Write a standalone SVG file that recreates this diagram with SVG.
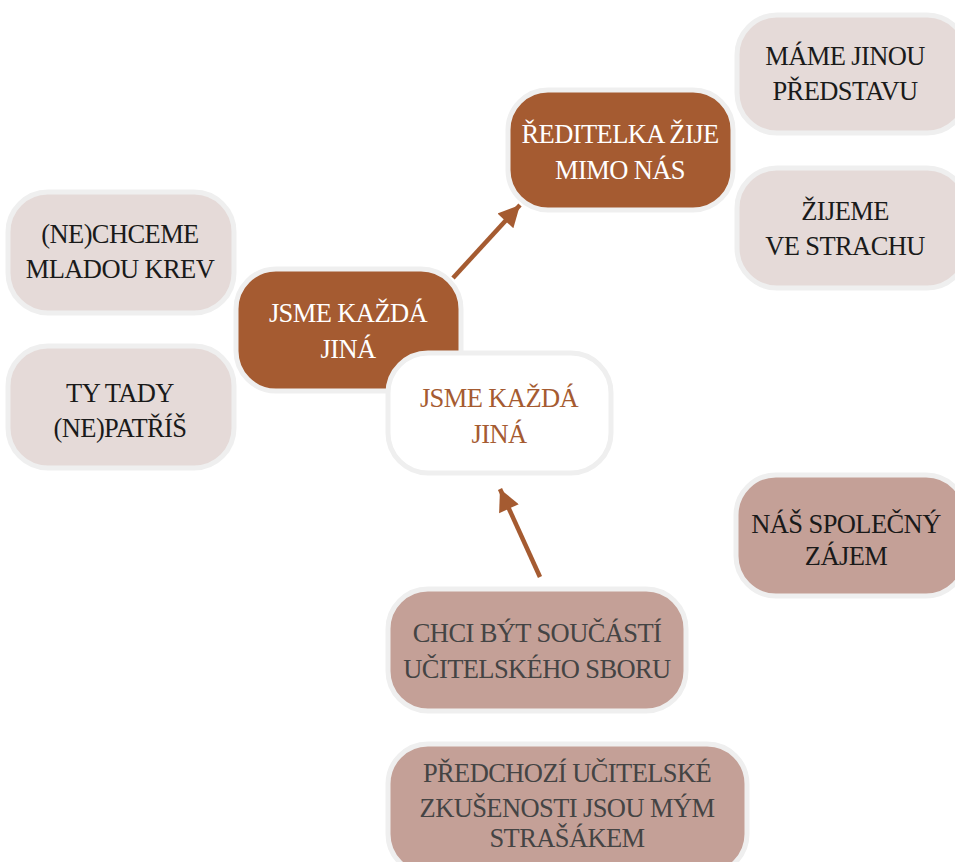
<svg xmlns="http://www.w3.org/2000/svg" width="955" height="862" viewBox="0 0 955 862">
<defs>
<style>
.box{stroke:#efefef;stroke-width:5}
.light{fill:#e5dad8}
.dusty{fill:#c4a097}
.brown{fill:#a55b31}
.white{fill:#ffffff}
text{font-family:"Liberation Serif","DejaVu Serif",serif;font-size:26.5px;text-anchor:middle;letter-spacing:-0.6px}
.dk{fill:#1a1a1a}
.gr{fill:#444444}
.wt{fill:#ffffff}
.br{fill:#a55b31}
.conn{stroke:#a55b31;stroke-width:4.5;fill:none}
</style>
<marker id="ah" viewBox="0 0 10 10" refX="10" refY="5" markerWidth="5.3" markerHeight="4.8" orient="auto" markerUnits="strokeWidth">
<path d="M0,0 L10,5 L0,10 Z" fill="#a55b31"/>
</marker>
</defs>
<rect width="955" height="862" fill="#ffffff"/>

<g id="n-mame">
<rect class="box light" x="737" y="15" width="230" height="118" rx="40"/>
<text class="dk" x="845" y="65">MÁME JINOU</text>
<text class="dk" x="845" y="100">PŘEDSTAVU</text>
</g>
<g id="n-zijeme">
<rect class="box light" x="737" y="168" width="230" height="120" rx="40"/>
<text class="dk" x="845" y="220">ŽIJEME</text>
<text class="dk" x="845" y="255">VE STRACHU</text>
</g>
<g id="n-reditelka">
<rect class="box brown" x="508" y="90" width="225" height="120" rx="40"/>
<text class="wt" x="620" y="143">ŘEDITELKA ŽIJE</text>
<text class="wt" x="620" y="179">MIMO NÁS</text>
</g>
<g id="n-nechceme">
<rect class="box light" x="8" y="192" width="226" height="121" rx="40"/>
<text class="dk" x="120" y="243">(NE)CHCEME</text>
<text class="dk" x="120" y="278">MLADOU KREV</text>
</g>
<g id="n-tytady">
<rect class="box light" x="8" y="346" width="226" height="122" rx="40"/>
<text class="dk" x="120" y="402">TY TADY</text>
<text class="dk" x="120" y="437">(NE)PATŘÍŠ</text>
</g>
<g id="n-jsme1">
<rect class="box brown" x="236" y="269" width="225" height="122" rx="40"/>
<text class="wt" x="348" y="322">JSME KAŽDÁ</text>
<text class="wt" x="348" y="358">JINÁ</text>
</g>
<g id="n-jsme2">
<rect class="box white" x="388" y="353" width="223" height="120" rx="40"/>
<text class="br" x="499" y="407">JSME KAŽDÁ</text>
<text class="br" x="499" y="443">JINÁ</text>
</g>
<g id="n-nas">
<rect class="box dusty" x="736" y="475" width="230" height="121" rx="40"/>
<text class="dk" x="846" y="533">NÁŠ SPOLEČNÝ</text>
<text class="dk" x="846" y="565">ZÁJEM</text>
</g>
<g id="n-chci">
<rect class="box dusty" x="388" y="589" width="298" height="122" rx="40"/>
<text class="gr" x="537" y="642">CHCI BÝT SOUČÁSTÍ</text>
<text class="gr" x="537" y="678">UČITELSKÉHO SBORU</text>
</g>
<g id="n-predchozi">
<rect class="box dusty" x="388" y="744" width="359" height="130" rx="40"/>
<text class="gr" x="567" y="782">PŘEDCHOZÍ UČITELSKÉ</text>
<text class="gr" x="567" y="817">ZKUŠENOSTI JSOU MÝM</text>
<text class="gr" x="567" y="847">STRAŠÁKEM</text>
</g>

<g id="connectors">
<line class="conn" x1="453" y1="278" x2="520" y2="205" marker-end="url(#ah)"/>
<line class="conn" x1="540" y1="577" x2="500" y2="489" marker-end="url(#ah)"/>
</g>
</svg>
